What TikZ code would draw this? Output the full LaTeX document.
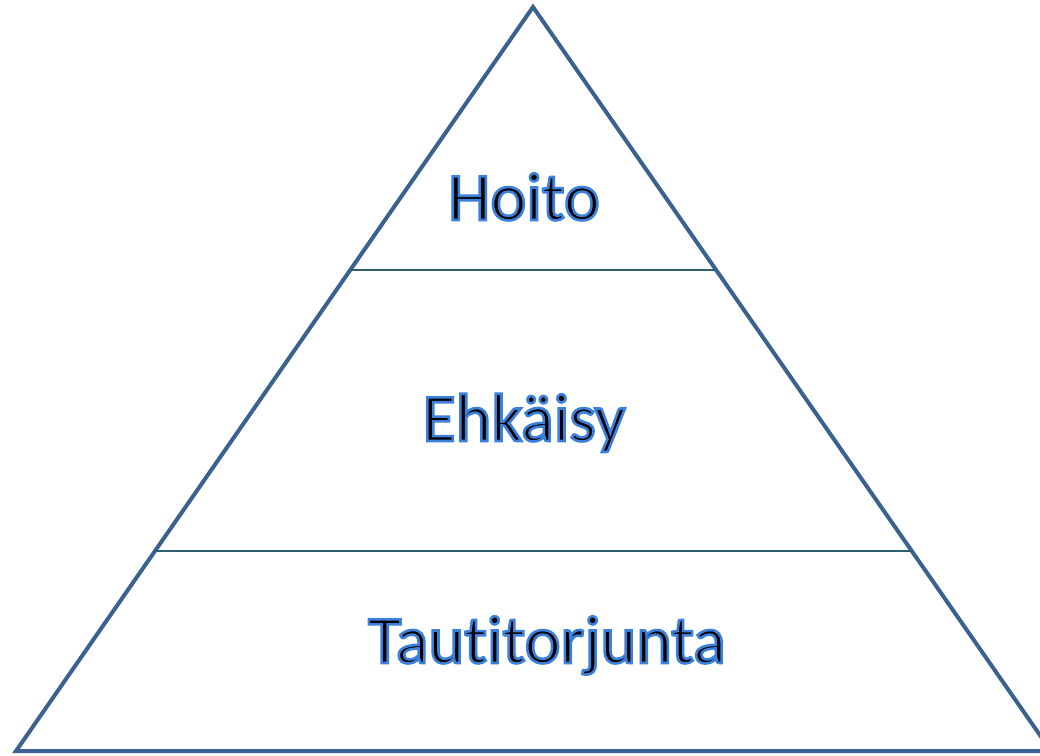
\documentclass[tikz,border=0pt]{standalone}
\usepackage{fontspec}
\setmainfont[Ligatures=NoCommon]{Carlito}
\usetikzlibrary{calc}
\definecolor{edgeblue}{HTML}{3A6190}
\definecolor{bandline}{HTML}{2E6070}
% black letters with a blue rim
\newcommand{\glowtext}[1]{\special{pdf:literal direct q 2 Tr 2.6 w 0.23 0.50 0.86 RG}#1\special{pdf:literal direct Q}}
\tikzstyle{pyramid} = [draw=edgeblue, line width=4pt, line join=miter]
\tikzstyle{band} = [draw=bandline, line width=1.5pt]
\tikzstyle{level} = [anchor=base, inner sep=0pt, font=\fontsize{68}{80}\selectfont]

\begin{document}
\begin{tikzpicture}[x=1pt, y=-1pt]
    % page frame of the reference
    \useasboundingbox (0,0) rectangle (1040,755);
    \clip (0,0) rectangle (1040,755);

    % corners of the pyramid
    \coordinate (apex) at (533,7);
    \coordinate (bl) at (16,751);
    \coordinate (br) at (1051,751);
    \path[pyramid] (apex) -- (bl) -- (br) -- cycle;

    % the two band lines
    \foreach \t/ \name in {0.3535/upper, 0.731/lower} {
        \coordinate (\name l) at ($(apex)!\t!(bl)$);
        \coordinate (\name r) at ($(apex)!\t!(br)$);
        \path[band] (\name l) -- (\name r);
    }

    % level labels
    \foreach \pos/ \name/ \txt in {{(524,220)/hoito/Hoito}, {(524,441)/ehkaisy/Ehkäisy}, {(547,663)/torjunta/Tautitorjunta}}
        \node[level] (\name) at \pos {\glowtext{\txt}};
\end{tikzpicture}
\end{document}
